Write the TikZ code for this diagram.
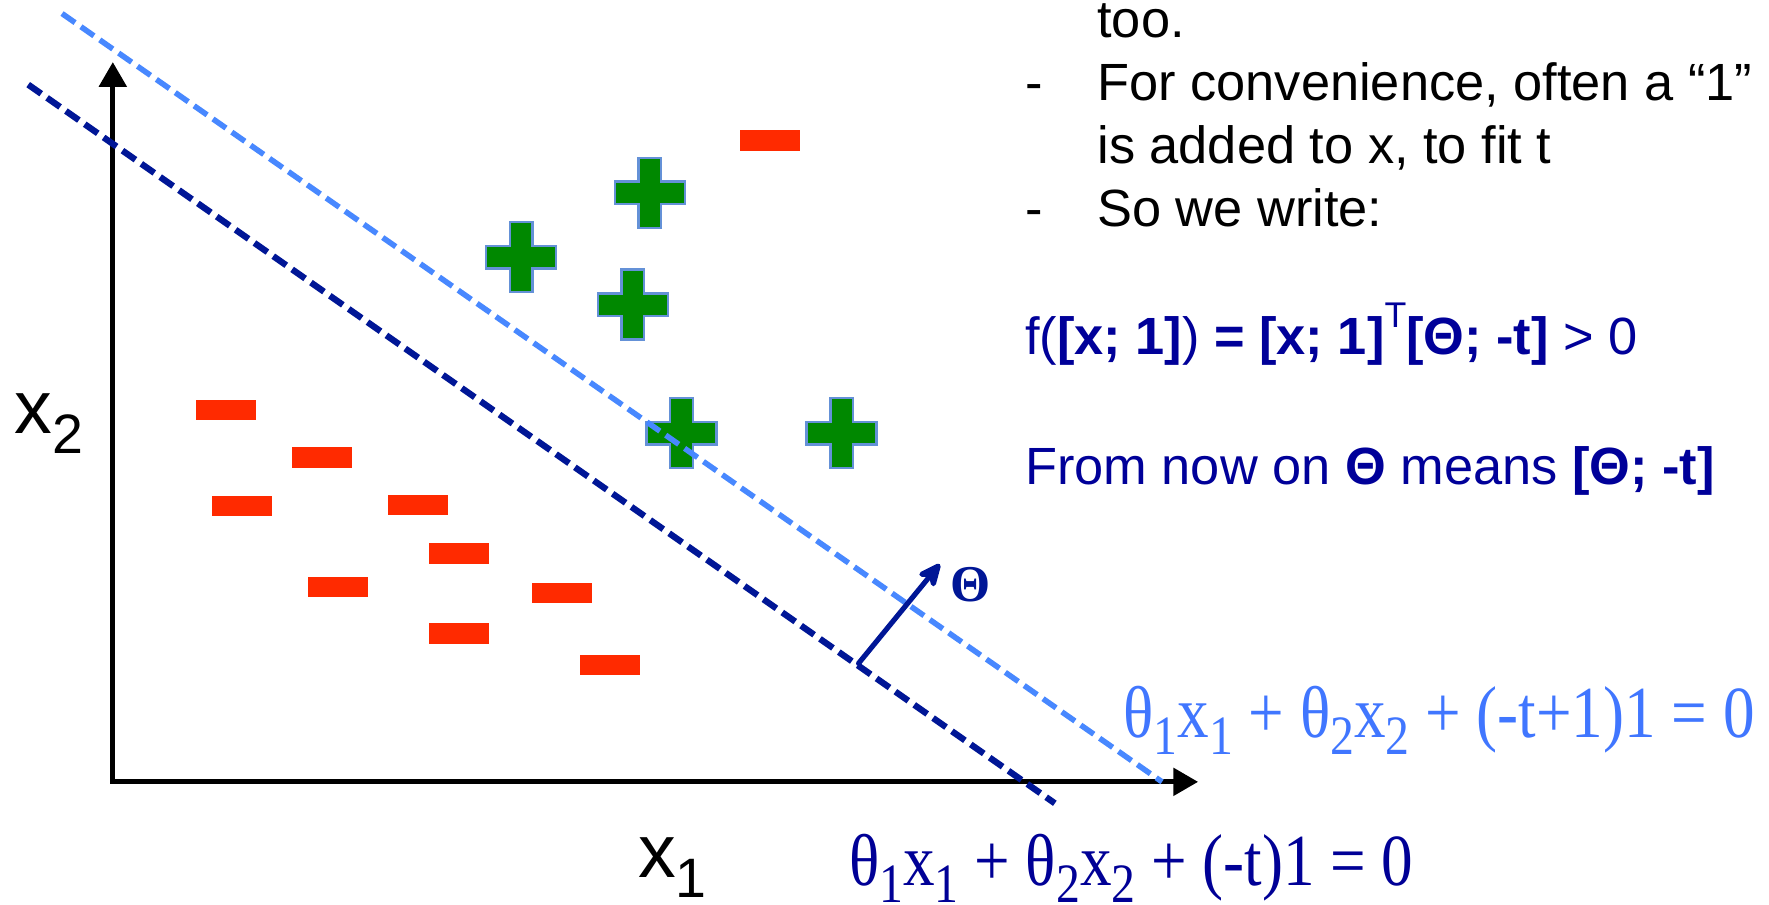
\documentclass[tikz,border=0pt]{standalone}
\usepackage{fontspec}
\setmainfont{Liberation Sans}
\newfontfamily\serifrm{Liberation Serif}
\usetikzlibrary{arrows.meta}
\definecolor{lightline}{RGB}{72,136,255}
\definecolor{lighteq}{RGB}{64,118,255}
\definecolor{darkline}{RGB}{0,22,150}
\definecolor{darkeq}{RGB}{0,0,150}
\definecolor{txtblue}{RGB}{0,0,153}
\definecolor{plusgreen}{RGB}{0,136,0}
\definecolor{plusedge}{RGB}{100,145,215}
\definecolor{minusred}{RGB}{255,42,0}
\newcommand\lowsub[1]{\raisebox{-0.5ex}{\fontsize{14}{15}\selectfont #1}}
\newcommand\axsub[1]{\raisebox{-0.5ex}{\fontsize{14}{15}\selectfont #1}}
\newcommand\supT{\raisebox{0.95ex}{\fontsize{9}{10}\selectfont T}}
\tikzset{
  axis/.style={line width=1.3pt,black,line join=miter},
  lightdash/.style={lightline,line width=1.4pt,dash pattern=on 4pt off 1.8pt},
  darkdash/.style={darkline,line width=1.6pt,dash pattern=on 4pt off 1.8pt},
  thetaarrow/.style={darkline,line width=1.3pt,line cap=round,-{Stealth[length=0.27cm,width=0.24cm,round]}},
  minusbox/.style={fill=minusred,draw=none,minimum width=0.53cm,minimum height=0.18cm,inner sep=0pt},
  plusmark/.pic={\filldraw[fill=plusgreen,draw=plusedge,line width=0.6pt]
     (-10,-31) -- (10,-31) -- (10,-10) -- (31,-10) -- (31,10) -- (10,10) -- (10,31)
     -- (-10,31) -- (-10,10) -- (-31,10) -- (-31,-10) -- (-10,-10) -- cycle;},
  txt/.style={anchor=base west,inner sep=0pt,font=\fontsize{13.2}{15.8}\selectfont},
  bluetxt/.style={txt,text=txtblue},
  eqn/.style={anchor=base west,inner sep=0pt,font=\serifrm\fontsize{18.5}{21}\selectfont},
  axlabel/.style={anchor=base west,inner sep=0pt,font=\fontsize{19}{22}\selectfont}
}
\begin{document}
\begin{tikzpicture}[x=0.01cm,y=-0.01cm]
\useasboundingbox (0,0) rectangle (1568,802);
% axes
\coordinate (origin) at (100,693);
\coordinate (ytip) at (100,55);
\coordinate (xtip) at (1062,693);
\draw[axis,{Triangle[length=0.22cm,width=0.24cm]}-{Triangle[length=0.22cm,width=0.24cm]}] (ytip) -- (origin) -- (xtip);
% minus markers
\node[minusbox] (m1) at (200.5,363.5) {};
\node[minusbox] (m2) at (285.5,405.5) {};
\node[minusbox] (m3) at (214.5,448.5) {};
\node[minusbox] (m4) at (370.5,447.5) {};
\node[minusbox] (m5) at (406.5,490.5) {};
\node[minusbox] (m6) at (299.5,520.5) {};
\node[minusbox] (m7) at (498.5,525.5) {};
\node[minusbox] (m8) at (406.5,561.5) {};
\node[minusbox] (m9) at (540.5,589.5) {};
\node[minusbox] (m10) at (682.5,124.5) {};
% plus markers
\pic at (462,228) {plusmark};
\pic at (576,171) {plusmark};
\pic at (561,270) {plusmark};
\pic at (604,384) {plusmark};
\pic at (746,384) {plusmark};
% separating lines
\coordinate (lA) at (55,12);
\coordinate (lB) at (1030,693);
\coordinate (dA) at (25,75);
\coordinate (dB) at (935,712);
\draw[lightdash] (lA) -- (lB);
\draw[darkdash] (dA) -- (dB);
% theta arrow
\coordinate (tA) at (761,588);
\coordinate (tB) at (833,500);
\draw[thetaarrow] (tA) -- (tB);
\node[anchor=base west,inner sep=0pt,text=darkline,font=\serifrm\bfseries\fontsize{13}{15}\selectfont] (thlab) at (842,533) {Θ};
% axis labels
\node[axlabel] (x2lab) at (12,384) {x\axsub{2}};
\node[axlabel] (x1lab) at (565,778) {x\axsub{1}};
% equations
\node[eqn,text=lighteq] (eqlight) at (995,654) {\scalebox{0.86}[1]{θ\lowsub{1}x\lowsub{1} + θ\lowsub{2}x\lowsub{2} + (-t+1)1 = 0}};
\node[eqn,text=darkeq] (eqdark) at (752,785) {\scalebox{0.86}[1]{θ\lowsub{1}x\lowsub{1} + θ\lowsub{2}x\lowsub{2} + (-t)1 = 0}};
% right text
\node[txt] (l1) at (972,33) {too.};
\node[txt] (b1) at (908,89) {-};
\node[txt] (l2) at (972,89) {For convenience, often a “1”};
\node[txt] (l3) at (972,145) {is added to x, to fit t};
\node[txt] (b2) at (908,201) {-};
\node[txt] (l4) at (972,201) {So we write:};
\node[bluetxt] (f1) at (908,314) {f(\textbf{[x; 1]}) \textbf{=} \textbf{[x; 1]}\supT\textbf{[Θ; -t]} > 0};
\node[bluetxt] (f2) at (908,429) {From now on \textbf{Θ} means \textbf{[Θ; -t]}};
\end{tikzpicture}
\end{document}
